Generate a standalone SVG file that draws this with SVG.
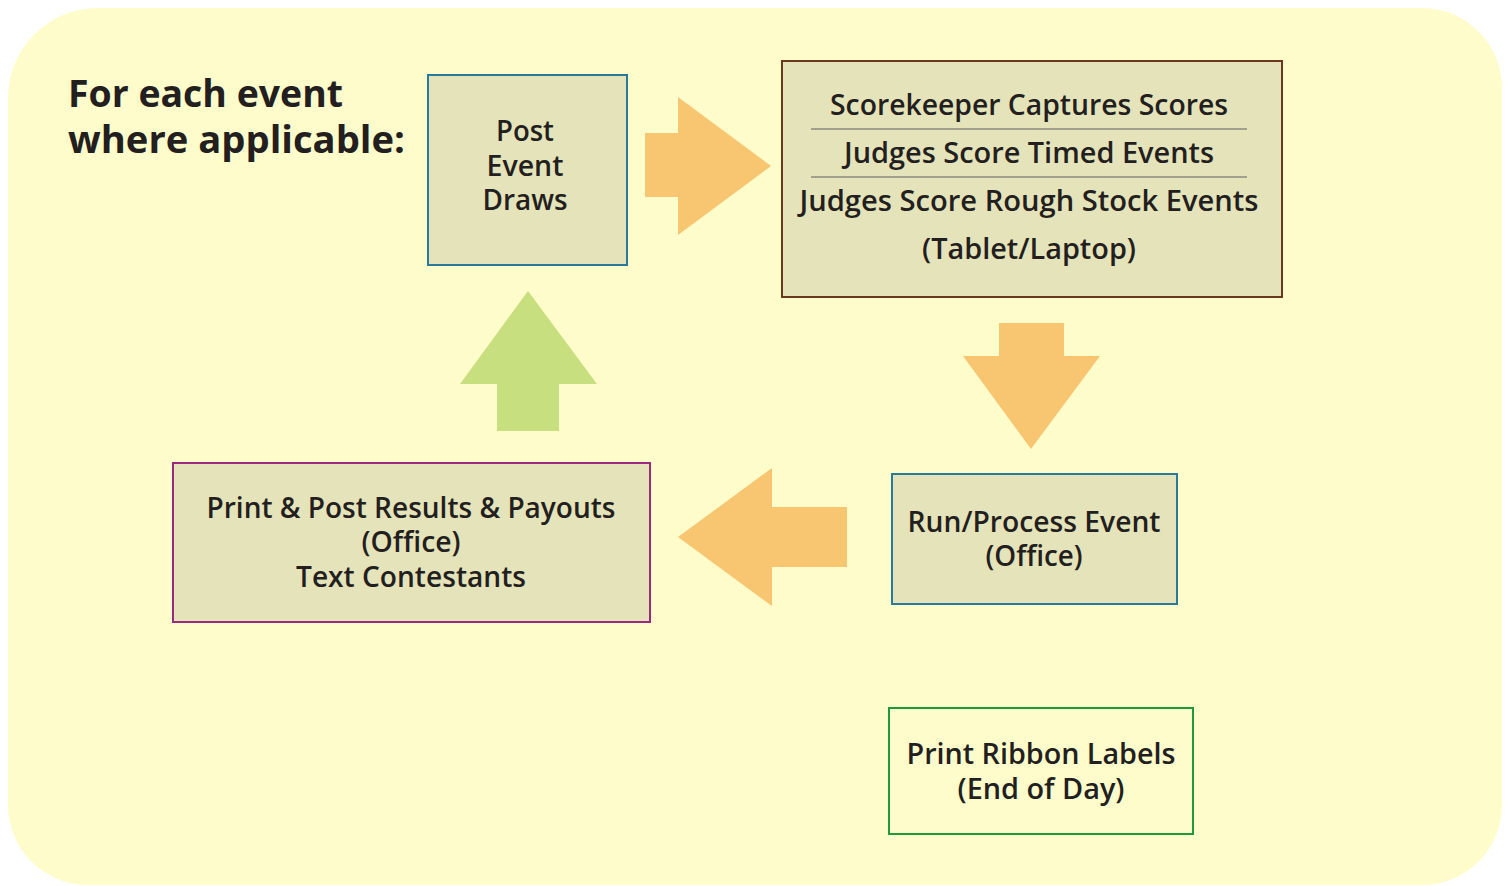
<svg xmlns="http://www.w3.org/2000/svg" width="1510" height="886" viewBox="0 0 1510 886">
<style>
.t{font-family:"Open Sans","Liberation Sans",sans-serif;font-weight:600;font-size:28px;fill:#231f20;text-anchor:middle}
.h{font-family:"Open Sans","Liberation Sans",sans-serif;font-weight:700;font-size:38px;fill:#231f20}
.box{fill:#e5e3ba;stroke-width:2}
.arr{fill:#f8c571}
</style>
<rect x="0" y="0" width="1510" height="886" fill="#ffffff"/>
<path d="M98,8 H1422 A80,80 0 0 1 1502,88 V805 A80,80 0 0 1 1422,885 H88 A80,80 0 0 1 8,805 V98 A90,90 0 0 1 98,8 Z" fill="#fffccb"/>
<g id="title">
<text class="h" x="68" y="107" textLength="275" lengthAdjust="spacingAndGlyphs">For each event</text>
<text class="h" x="68" y="153" textLength="337" lengthAdjust="spacingAndGlyphs">where applicable:</text>
</g>
<g id="connectors">
<polygon class="arr" points="645,133 678,133 678,97 771,166 678,235 678,197 645,197"/>
<polygon class="arr" points="999,323 1064,323 1064,356 1100,356 1031,449 963,356 999,356"/>
<polygon class="arr" points="847,507 772,507 772,468 678,537 772,606 772,567 847,567"/>
<polygon fill="#c8df80" points="497,431 559,431 559,384 597,384 528,291 460,384 497,384"/>
</g>
<g id="post-event-draws">
<rect class="box" x="428" y="75" width="199" height="190" stroke="#2b7a9a"/>
<text class="t" x="525" y="141" textLength="58" lengthAdjust="spacingAndGlyphs">Post</text>
<text class="t" x="525" y="176" textLength="77" lengthAdjust="spacingAndGlyphs">Event</text>
<text class="t" x="525" y="210" textLength="85" lengthAdjust="spacingAndGlyphs">Draws</text>
</g>
<g id="scores">
<rect class="box" x="782" y="61" width="500" height="236" stroke="#6b3a1e"/>
<text class="t" x="1029" y="115" textLength="398" lengthAdjust="spacingAndGlyphs">Scorekeeper Captures Scores</text>
<line x1="811" y1="129" x2="1247" y2="129" stroke="#8a8a80" stroke-width="1.5"/>
<text class="t" x="1029" y="163" textLength="370" lengthAdjust="spacingAndGlyphs">Judges Score Timed Events</text>
<line x1="811" y1="177" x2="1247" y2="177" stroke="#8a8a80" stroke-width="1.5"/>
<text class="t" x="1029" y="211" textLength="459" lengthAdjust="spacingAndGlyphs">Judges Score Rough Stock Events</text>
<text class="t" x="1029" y="259" textLength="214" lengthAdjust="spacingAndGlyphs">(Tablet/Laptop)</text>
</g>
<g id="run-process">
<rect class="box" x="892" y="474" width="285" height="130" stroke="#2b7a9a"/>
<text class="t" x="1034" y="532" textLength="253" lengthAdjust="spacingAndGlyphs">Run/Process Event</text>
<text class="t" x="1034" y="566" textLength="97" lengthAdjust="spacingAndGlyphs">(Office)</text>
</g>
<g id="print-post">
<rect class="box" x="173" y="463" width="477" height="159" stroke="#9b2a7e"/>
<text class="t" x="411" y="518" textLength="409" lengthAdjust="spacingAndGlyphs">Print &amp; Post Results &amp; Payouts</text>
<text class="t" x="411" y="552" textLength="99" lengthAdjust="spacingAndGlyphs">(Office)</text>
<text class="t" x="411" y="587" textLength="230" lengthAdjust="spacingAndGlyphs">Text Contestants</text>
</g>
<g id="ribbon-labels">
<rect x="889" y="708" width="304" height="126" fill="none" stroke="#1e9a3a" stroke-width="2"/>
<text class="t" x="1041" y="764" textLength="269" lengthAdjust="spacingAndGlyphs">Print Ribbon Labels</text>
<text class="t" x="1041" y="799" textLength="167" lengthAdjust="spacingAndGlyphs">(End of Day)</text>
</g>
</svg>
